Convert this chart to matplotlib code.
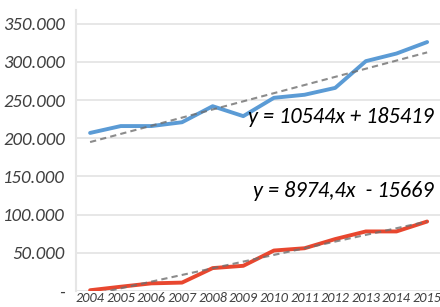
import numpy as np
import matplotlib
matplotlib.use('Agg')
from matplotlib import pyplot as plt
from matplotlib import font_manager

years = [2004, 2005, 2006, 2007, 2008, 2009, 2010, 2011, 2012, 2013, 2014, 2015]
blue_vals = [207000, 216000, 216000, 221000, 242000, 229000, 253000, 257000, 266000, 301000, 311000, 326000]
red_vals = [1000, 5600, 10000, 11000, 30000, 33000, 53000, 56000, 68000, 78000, 78000, 91000]
blue_eq = "y = 10544x + 185419"
red_eq = "y = 8974,4x  - 15669"
yticks = [0, 50000, 100000, 150000, 200000, 250000, 300000, 350000]
ytick_labels = ['-', '50.000', '100.000', '150.000', '200.000', '250.000', '300.000', '350.000']

# pick an italic font file directly (calibri-like first)
files = [f.fname for f in font_manager.fontManager.ttflist]
font_file = None
for want in ['Carlito-Italic', 'OpenSans-Italic', 'Lato-Italic', 'NotoSans-Italic', 'DejaVuSans-Oblique']:
    hits = [f for f in files if f.split('/')[-1].startswith(want)]
    if hits:
        font_file = hits[0]
        break

def fp(size):
    if font_file:
        return font_manager.FontProperties(fname=font_file, size=size)
    return font_manager.FontProperties(family='DejaVu Sans', style='oblique', size=size)

fig = plt.figure(figsize=(4.4, 3.07), dpi=100)
ax = fig.add_axes([76/440, 16/307, 1 - 76/440, (307 - 16 - 10)/307])

x = np.arange(1, len(years) + 1)

ax.plot(years, blue_vals, color='#5B9BD5', lw=2.8, solid_capstyle='round', zorder=3)
ax.plot(years, red_vals, color='#E8472F', lw=2.8, solid_capstyle='round', zorder=3)

# linear trendlines, like excel
for vals in (blue_vals, red_vals):
    k, b = np.polyfit(x, vals, 1)
    ax.plot(years, k * x + b, color='#6F6F6F', lw=1.5, ls=(0, (3, 2)), zorder=4, alpha=0.8)

ax.set_xlim(2003.54, 2015.42)
ax.set_ylim(0, 368000)
ax.set_yticks(yticks)
ax.set_yticklabels(ytick_labels, fontproperties=fp(13.5), color='#404040')
ax.set_xticks(years)
ax.set_xticklabels([str(y) for y in years], fontproperties=fp(10.3), color='#404040')
ax.tick_params(length=0, pad=1)
ax.tick_params(axis='y', pad=8)
ax.grid(axis='y', color='#E3E3E3', lw=1.2)
ax.set_axisbelow(True)
for s in ['top', 'right', 'bottom']:
    ax.spines[s].set_visible(False)
ax.spines['left'].set_color('#E6E6E6')
ax.spines['left'].set_linewidth(1.5)

ax.text(2015.2, 228000, blue_eq, fontproperties=fp(16), ha='right', va='center', color='black')
ax.text(2015.2, 131000, red_eq, fontproperties=fp(16), ha='right', va='center', color='black')

fig.savefig('out.png', dpi=100)
